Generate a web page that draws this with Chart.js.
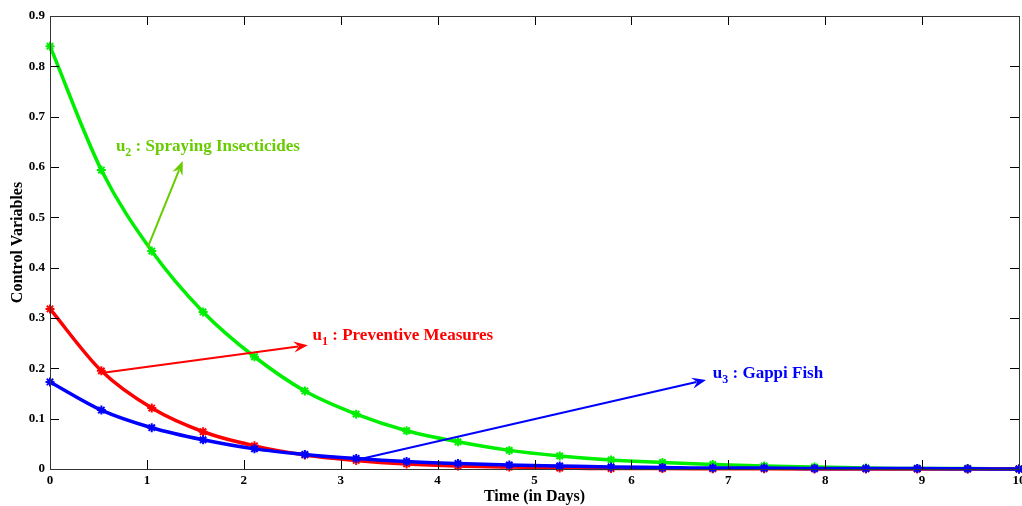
<!DOCTYPE html>
<html><head><meta charset="utf-8">
<script src="https://cdn.jsdelivr.net/npm/chart.js@4/dist/chart.umd.min.js"></script>
<style>html,body{margin:0;padding:0;background:#fff;}#wrap{width:1022px;height:506px;}</style>
</head><body><div id="wrap"><canvas id="c" width="1022" height="506"></canvas></div>
<script>
const timeDays = [0,0.53,1.05,1.58,2.11,2.63,3.16,3.68,4.21,4.74,5.26,5.79,6.32,6.84,7.37,7.89,8.42,8.95,9.47,10];
const u1Preventive = [0.318,0.195,0.121,0.074,0.046,0.028,0.017,0.010,0.006,0.004,0.002,0.001,0.001,0.0005,0.0003,0.0002,0.0001,0,0,0];
const u2Spraying = [0.840,0.594,0.433,0.312,0.223,0.155,0.109,0.076,0.054,0.037,0.026,0.018,0.013,0.009,0.006,0.004,0.002,0.001,0.001,0];
const u3Gappi = [0.173,0.117,0.082,0.058,0.040,0.029,0.021,0.015,0.011,0.008,0.006,0.004,0.003,0.002,0.002,0.001,0.001,0.001,0.0005,0];
const xTicks = [0,1,2,3,4,5,6,7,8,9,10];
const yTicks = [0,0.1,0.2,0.3,0.4,0.5,0.6,0.7,0.8,0.9];
const annotations = [
  {from:[1.01,0.441], to:[1.37,0.612], text:[0.68,0.632], sub:'2', rest:' : Spraying Insecticides', color:'#66cc00'},
  {from:[0.55,0.191], to:[2.66,0.246], text:[2.71,0.257], sub:'1', rest:' : Preventive Measures', color:'#ff0000'},
  {from:[3.16,0.018], to:[6.77,0.177], text:[6.84,0.181], sub:'3', rest:' : Gappi Fish', color:'#0000ff'}
];
const pts = arr => arr.map((v,i)=>({x:timeDays[i], y:v}));
const serif = '"Liberation Serif","Times New Roman",serif';

const framePlugin = {
  id:'frame',
  afterDatasetsDraw(chart){
    const {ctx, chartArea:a, scales:{x,y}} = chart;
    ctx.save();
    ctx.strokeStyle = '#000'; ctx.lineWidth = 1;
    ctx.beginPath();
    xTicks.forEach(t=>{const px=Math.round(x.getPixelForValue(t))+0.5;
      ctx.moveTo(px,a.bottom); ctx.lineTo(px,a.bottom-9);
      ctx.moveTo(px,a.top); ctx.lineTo(px,a.top+9);});
    yTicks.forEach(t=>{const py=Math.round(y.getPixelForValue(t))+0.5;
      ctx.moveTo(a.left,py); ctx.lineTo(a.left+9,py);
      ctx.moveTo(a.right,py); ctx.lineTo(a.right-9,py);});
    ctx.stroke();
    ctx.strokeStyle='#333';
    ctx.strokeRect(Math.round(a.left)+0.5, Math.round(a.top)+0.5, Math.round(a.right-a.left), Math.round(a.bottom-a.top));
    annotations.forEach(an=>{
      const x1=x.getPixelForValue(an.from[0]), y1=y.getPixelForValue(an.from[1]);
      const x2=x.getPixelForValue(an.to[0]), y2=y.getPixelForValue(an.to[1]);
      const ang=Math.atan2(y2-y1,x2-x1);
      const L=14, W=5.5;
      const c=Math.cos(ang), s=Math.sin(ang);
      ctx.strokeStyle=an.color; ctx.fillStyle=an.color; ctx.lineWidth=2;
      ctx.beginPath(); ctx.moveTo(x1,y1);
      ctx.lineTo(x2-c*L*0.7, y2-s*L*0.7); ctx.stroke();
      ctx.beginPath();
      ctx.moveTo(x2,y2);
      ctx.lineTo(x2-c*L+s*W, y2-s*L-c*W);
      ctx.lineTo(x2-c*L*0.65, y2-s*L*0.65);
      ctx.lineTo(x2-c*L-s*W, y2-s*L+c*W);
      ctx.closePath(); ctx.fill();
      const tx=x.getPixelForValue(an.text[0]), ty=y.getPixelForValue(an.text[1]);
      ctx.textBaseline='alphabetic'; ctx.textAlign='left';
      ctx.font='bold 17px '+serif;
      ctx.fillText('u',tx,ty);
      let w=ctx.measureText('u').width;
      ctx.font='bold 12px '+serif;
      ctx.fillText(an.sub,tx+w,ty+5);
      w+=ctx.measureText(an.sub).width;
      ctx.font='bold 17px '+serif;
      ctx.fillText(an.rest,tx+w,ty);
    });
    ctx.restore();
  }
};

const ds = (label,data,color)=>({label, data:pts(data), borderColor:color, backgroundColor:color,
  borderWidth:3.5, pointStyle:'star', pointRadius:4.5, pointBorderWidth:2, pointBorderColor:color,
  cubicInterpolationMode:'monotone', fill:false, clip:8});

new Chart(document.getElementById('c'), {
  type:'line',
  data:{datasets:[ds('u3',u3Gappi,'#0000ff'), ds('u1',u1Preventive,'#ff0000'), ds('u2',u2Spraying,'#00ee00')]},
  options:{
    responsive:false, animation:false, devicePixelRatio:1,
    layout:{autoPadding:false, padding:{top:16,right:3,left:0,bottom:0}},
    plugins:{legend:{display:false}, tooltip:{enabled:false}},
    scales:{
      x:{type:'linear', min:0, max:10,
        afterFit(s){s.height=37; s.paddingLeft=0; s.paddingRight=0;},
        afterBuildTicks(s){s.ticks=xTicks.map(v=>({value:v}));},
        grid:{display:false, drawTicks:false}, border:{display:false},
        ticks:{color:'#000', padding:4, font:{family:serif, size:13, weight:'bold'}, maxRotation:0, autoSkip:false,
          callback:v=>String(v)},
        title:{display:true, text:'Time (in Days)', color:'#000', padding:{top:0,bottom:0}, font:{family:serif,size:16,weight:'bold'}}
      },
      y:{type:'linear', min:0, max:0.9,
        afterFit(s){s.width=50; s.paddingTop=0; s.paddingBottom=0;},
        afterBuildTicks(s){s.ticks=yTicks.map(v=>({value:v}));},
        grid:{display:false, drawTicks:false}, border:{display:false},
        ticks:{color:'#000', padding:5, font:{family:serif, size:13, weight:'bold'}, autoSkip:false,
          callback:v=>String(Math.round(v*10)/10)},
        title:{display:true, text:'Control Variables', color:'#000', padding:{top:8,bottom:0}, font:{family:serif,size:16,weight:'bold'}}
      }
    }
  },
  plugins:[framePlugin]
});
</script></body></html>
